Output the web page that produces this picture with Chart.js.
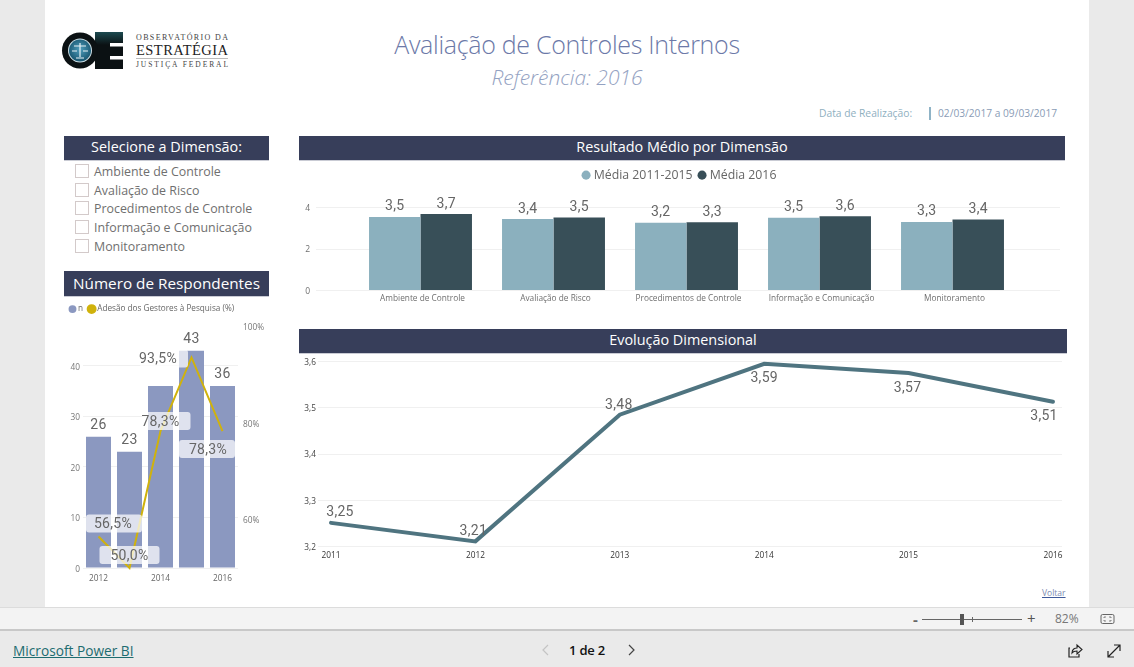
<!DOCTYPE html>
<html lang="pt"><head><meta charset="utf-8">
<script src="https://cdn.jsdelivr.net/npm/chart.js@4"></script>
<style>
html,body{margin:0;padding:0;width:1134px;height:667px;overflow:hidden;background:#eaeaea;font-family:"Open Sans","Noto Sans",sans-serif}
.a{position:absolute;white-space:nowrap}
#page{position:absolute;left:45px;top:0;width:1044px;height:607px;background:#fff}
.hd{position:absolute;background:#373e5a;color:#fff;text-align:center;border-bottom:1px solid #c9cbd4;box-sizing:border-box;white-space:nowrap}
canvas{position:absolute;display:block}
.sl{position:absolute;left:94px;font-size:12.4px;color:#6f6f6f;line-height:18px;white-space:nowrap}
.cb{position:absolute;left:75px;width:12px;height:12px;border:1px solid #d3caca;background:#fff}
</style></head><body>
<div id="page"></div>

<svg class="a" style="left:60px;top:26px" width="175" height="48" viewBox="0 0 175 48">
 <defs><radialGradient id="g" cx="50%" cy="45%" r="60%"><stop offset="0" stop-color="#4f9dbb"/><stop offset="1" stop-color="#14506a"/></radialGradient>
 <linearGradient id="e" x1="0" y1="0" x2="0" y2="1"><stop offset="0" stop-color="#1c4a50"/><stop offset=".35" stop-color="#0b1113"/></linearGradient></defs>
 <rect x="35" y="6" width="28" height="37" fill="url(#e)"/>
 <rect x="50" y="17" width="13" height="3.500" fill="#fff"/><rect x="50" y="30" width="13" height="3.500" fill="#fff"/>
 <circle cx="20" cy="24.500" r="18" fill="#0b1113"/><circle cx="20" cy="24.500" r="12" fill="#cfe0e6"/><circle cx="20" cy="24.500" r="11" fill="url(#g)"/>
 <path d="M20 17v14M14 20h12M16 32h8M12 25h5M23 25h5" stroke="#e8f2f5" stroke-width="1.200" fill="none"/>
 <text x="76" y="14" font-family="Liberation Serif" font-size="8" fill="#444" textLength="92" lengthAdjust="spacing">OBSERVATÓRIO DA</text>
 <text x="76" y="29" font-family="Liberation Serif" font-size="14.500" fill="#222" textLength="92" lengthAdjust="spacing">ESTRATÉGIA</text>
 <rect x="76" y="32" width="92" height="1" fill="#bbb"/>
 <text x="76" y="41" font-family="Liberation Serif" font-size="7.500" fill="#444" textLength="92" lengthAdjust="spacing">JUSTIÇA FEDERAL</text>
</svg>

<div class="a" style="left:267px;width:600px;top:26px;text-align:center;font-size:25px;line-height:36px;font-weight:300;color:#6c79a8;letter-spacing:-.3px">Avaliação de Controles Internos</div>
<div class="a" style="left:267px;width:600px;top:61px;text-align:center;font-size:21px;line-height:32px;font-weight:300;font-style:italic;color:#94a2c2">Referência: 2016</div>
<div class="a" style="left:819px;top:105px;font-size:10.300px;line-height:16px;color:#8fb0bf">Data de Realização:</div>
<div class="a" style="left:929px;top:107px;width:2px;height:13px;background:#8fb3c6"></div>
<div class="a" style="left:938px;top:105px;font-size:10.200px;line-height:16px;color:#8a9cb6">02/03/2017 a 09/03/2017</div>

<div class="hd" style="left:64px;top:136px;width:205px;height:25px;font-size:14.400px;line-height:22px">Selecione a Dimensão:</div>
<div class="cb" style="top:164px"></div><div class="sl" style="top:163px">Ambiente de Controle</div>
<div class="cb" style="top:183px"></div><div class="sl" style="top:182px">Avaliação de Risco</div>
<div class="cb" style="top:201px"></div><div class="sl" style="top:200px">Procedimentos de Controle</div>
<div class="cb" style="top:220px"></div><div class="sl" style="top:219px">Informação e Comunicação</div>
<div class="cb" style="top:239px"></div><div class="sl" style="top:238px">Monitoramento</div>

<div class="hd" style="left:64px;top:271px;width:205px;height:26px;font-size:15.300px;line-height:24px">Número de Respondentes</div>
<div class="hd" style="left:299px;top:136px;width:766px;height:25px;font-size:14.400px;line-height:22px">Resultado Médio por Dimensão</div>
<div class="hd" style="left:299px;top:329px;width:768px;height:25px;font-size:14.400px;line-height:22px">Evolução Dimensional</div>

<canvas id="c1" width="766" height="150" style="left:299px;top:160px"></canvas>
<canvas id="c2" width="768" height="212" style="left:299px;top:354px"></canvas>
<canvas id="c3" width="205" height="292" style="left:64px;top:298px"></canvas>

<div class="a" style="left:1042px;top:586px;font-size:8.500px;line-height:13px;color:#7d8bb0;text-decoration:underline;text-decoration-color:#3f5a9a">Voltar</div>

<div class="a" style="left:0;top:607px;width:1134px;height:24px;background:#f3f3f3;border-top:1px solid #dcdcdc;border-bottom:2px solid #c8c8c8;box-sizing:border-box"></div>
<div class="a" style="left:913px;top:610px;font-size:15px;line-height:18px;font-weight:700;color:#666">-</div>
<div class="a" style="left:922px;top:619px;width:100px;height:1px;background:#666"></div>
<div class="a" style="left:960px;top:614px;width:4px;height:11px;background:#555"></div>
<div class="a" style="left:972px;top:617px;width:1px;height:5px;background:#666"></div>
<div class="a" style="left:1027px;top:609px;font-size:15px;line-height:18px;color:#555">+</div>
<div class="a" style="left:1055px;top:611px;font-size:12px;line-height:16px;color:#777">82%</div>
<svg class="a" style="left:1100px;top:613px" width="16" height="12"><rect x="1" y="1.500" width="13" height="9" rx="1.500" fill="none" stroke="#666"/><path d="M4 5V4h2M9 4h2v1M4 7v1h2M9 8h2V7" stroke="#666" fill="none" stroke-width=".8"/></svg>

<div class="a" style="left:13px;top:641px;font-size:13.700px;line-height:20px;color:#1d6c70;text-decoration:underline;font-weight:500">Microsoft Power BI</div>
<svg class="a" style="left:541px;top:643px" width="10" height="14"><path d="M7 2L2 7l5 5" fill="none" stroke="#c4c4c4" stroke-width="1.200"/></svg>
<div class="a" style="left:569px;top:641px;font-size:13px;line-height:18px;color:#111;font-weight:600;letter-spacing:-.2px">1 de 2</div>
<svg class="a" style="left:626px;top:643px" width="10" height="14"><path d="M3 2l5 5-5 5" fill="none" stroke="#444" stroke-width="1.200"/></svg>
<svg class="a" style="left:1067px;top:643px" width="16" height="15"><path d="M3 5H2v9h10v-3" fill="none" stroke="#222" stroke-width="1.200"/><path d="M5 10c0-4 3-5 5-5V2l5 4.500-5 4.500V8c-2 0-4 .5-5 2z" fill="none" stroke="#222" stroke-width="1.100"/></svg>
<svg class="a" style="left:1107px;top:644px" width="14" height="14"><path d="M1 13L13 1M7 1h6v6M1 7v6h6" fill="none" stroke="#222" stroke-width="1.200"/></svg>

<script>
// ---- Data ----
const dimensions = ["Ambiente de Controle","Avaliação de Risco","Procedimentos de Controle","Informação e Comunicação","Monitoramento"];
const media20112015 = [3.52,3.42,3.24,3.48,3.28];
const media2016 = [3.66,3.50,3.27,3.56,3.40];
const dimTicks = [0,2,4];

const evoYears = ["2011","2012","2013","2014","2015","2016"];
const evoValues = [3.25,3.21,3.484,3.594,3.574,3.512];
const evoTicks = [3.2,3.3,3.4,3.5,3.6];

const respYears = ["2012","2013","2014","2015","2016"];
const respN = [26,23,36,43,36];
const respNHidden = [2];
const respAdesao = [56.5,50.0,78.3,93.5,78.3];
const respTicks = [0,10,20,30,40];
const adesaoTicks = [60,80,100];

// ---- Styles ----
const uiFont = '"Open Sans","Noto Sans",sans-serif';
const numFont = '"Liberation Sans Narrow","Roboto",sans-serif';
const comma = s => String(s).replace('.',',');
const grid = '#f0f0f0';
const noGrid = {display:false,drawTicks:false};

function fixedTicks(arr){ return s => { s.ticks = arr.map(value=>({value})); }; }
function fitW(w){ return s => { s.width=w; s.paddingTop=0; s.paddingBottom=0; }; }
function fitH(h){ return s => { s.height=h; s.paddingLeft=0; s.paddingRight=0; }; }
function legendHeight(h,extraRight,extraTop){ return {id:'lh',
  beforeInit(c){const f=c.legend.fit;c.legend.fit=function(){f.call(this);this.height=h;};},
  afterLayout(c){ if(extraRight) c.legend.right+=extraRight; if(extraTop) c.legend.top+=extraTop; }}; }
function wideGrid(x0,x1,color){ return {id:'wg',beforeDatasetsDraw(c){
  const g=c.ctx,y=c.scales.y; g.save(); g.strokeStyle=color; g.lineWidth=1;
  y.ticks.forEach(t=>{const p=Math.round(y.getPixelForValue(t.value))+.5; g.beginPath(); g.moveTo(x0,p); g.lineTo(x1,p); g.stroke();});
  g.restore();}}; }
function text(g,s,x,y,size,color){ g.font=size+'px '+numFont; g.fillStyle=color; g.textAlign='center'; g.textBaseline='middle'; g.letterSpacing='.3px'; g.fillText(s,x,y+1); g.letterSpacing='0px'; }

// Chart 1: average result by dimension
const barLabels = {id:'bl',afterDatasetsDraw(c){
  c.data.datasets.forEach((d,i)=>c.getDatasetMeta(i).data.forEach((el,j)=>{
    text(c.ctx,comma(d.data[j].toFixed(1)),el.x,el.y-11,14,'#666');
  }));}};
new Chart('c1',{type:'bar',
  data:{labels:dimensions,datasets:[
    {label:'Média 2011-2015',data:media20112015,backgroundColor:'#8bb0be',borderWidth:0},
    {label:'Média 2016',data:media2016,backgroundColor:'#384f58',borderWidth:0}]},
  options:{responsive:false,animation:false,layout:{padding:{right:46}},
    datasets:{bar:{barPercentage:1,categoryPercentage:.774}},
    plugins:{tooltip:{enabled:false},
      legend:{position:'top',labels:{usePointStyle:true,pointStyle:'circle',boxWidth:3,boxHeight:6.400,padding:8,color:'#666',font:{family:uiFont,size:12.300}}}},
    scales:{
      x:{grid:noGrid,border:{display:false},afterFit:fitH(20),
         ticks:{autoSkip:false,maxRotation:0,padding:4,labelOffset:2,color:'#6f6f6f',font:{family:uiFont,size:8.300}}},
      y:{min:0,max:4,afterBuildTicks:fixedTicks(dimTicks),afterFit:fitW(55),grid:noGrid,border:{display:false},
         ticks:{padding:44,labelOffset:1.500,color:'#6f6f6f',font:{family:uiFont,size:8.500}}}}},
  plugins:[legendHeight(47,43,1),wideGrid(17,761,grid),barLabels]});

// Chart 2: yearly evolution
const evoOffsets = [[9,-11],[-2,-11],[-1,-10],[0,14],[-1,14],[-9,14]];
const evoLabels = {id:'el',afterDatasetsDraw(c){
  c.getDatasetMeta(0).data.forEach((el,j)=>{
    text(c.ctx,comma(evoValues[j].toFixed(2)),el.x+evoOffsets[j][0],el.y+evoOffsets[j][1],14,'#666');
  });}};
new Chart('c2',{type:'line',
  data:{labels:evoYears,datasets:[{data:evoValues,borderColor:'#4f7480',borderWidth:4,pointRadius:0,tension:0,borderCapStyle:'round',clip:false}]},
  options:{responsive:false,animation:false,layout:{padding:{right:14,top:7}},
    plugins:{legend:{display:false},tooltip:{enabled:false}},
    scales:{
      x:{grid:noGrid,border:{display:false},afterFit:fitH(20),offset:false,
         ticks:{autoSkip:false,maxRotation:0,padding:5,color:'#333',font:{family:uiFont,size:8.300}}},
      y:{min:3.2,max:3.6,afterBuildTicks:fixedTicks(evoTicks),afterFit:fitW(32),grid:noGrid,border:{display:false},
         ticks:{padding:15,labelOffset:1.500,color:'#444',font:{family:uiFont,size:8.300},callback:v=>comma(v.toFixed(1))}}}},
  plugins:[wideGrid(19,763,grid),evoLabels]});

// Chart 3: respondents and adherence
const adesaoOffsets = [[14.5,-13],[0,-13],[0,-10],[-33.5,1],[-14.5,18]];
const adesaoBoxes = [[-27,29],[-30,30],[-18,30],[-18,30],[-29,27]];
const respLabels = {id:'rl',afterDatasetsDraw(c){
  const g=c.ctx;
  c.getDatasetMeta(1).data.forEach((el,j)=>{
    if(!respNHidden.includes(j)) text(g,String(respN[j]),el.x,el.y-12.5,14,'#666');
  });
  c.getDatasetMeta(0).data.forEach((el,j)=>{
    const cx=el.x+adesaoOffsets[j][0], cy=el.y+adesaoOffsets[j][1], b=adesaoBoxes[j];
    g.save(); g.fillStyle='rgba(255,255,255,.72)'; g.beginPath();
    g.roundRect(cx+b[0],cy-9,b[1]-b[0],18,3); g.fill(); g.restore();
    text(g,comma(respAdesao[j].toFixed(1))+'%',cx,cy,14,'#666');
  });}};
new Chart('c3',{
  data:{labels:respYears,datasets:[
    {type:'line',label:'Adesão dos Gestores à Pesquisa (%)',data:respAdesao,yAxisID:'y1',borderColor:'#d0b20c',backgroundColor:'#d0b20c',borderWidth:2,pointRadius:0,tension:0,order:0,clip:false},
    {type:'bar',label:'n',data:respN,yAxisID:'y',backgroundColor:'#8b98c0',barPercentage:1,categoryPercentage:.806,order:1}]},
  options:{responsive:false,animation:false,
    plugins:{tooltip:{enabled:false},
      legend:{position:'top',align:'start',reverse:true,labels:{usePointStyle:true,pointStyle:'circle',boxWidth:3,boxHeight:5.600,padding:7,color:'#666',font:{family:uiFont,size:8.200}}}},
    scales:{
      x:{grid:noGrid,border:{display:false},afterFit:fitH(22),
         ticks:{autoSkip:false,maxRotation:0,padding:6,color:'#666',font:{family:uiFont,size:8.300},callback(v,i){return i%2?'':this.getLabelForValue(v);}}},
      y:{position:'left',min:0,max:47.9,afterBuildTicks:fixedTicks(respTicks),afterFit:fitW(19),grid:{color:grid,drawTicks:false},border:{display:false},
         ticks:{padding:3,labelOffset:1.500,color:'#777',font:{family:uiFont,size:8.300}}},
      y1:{position:'right',min:50,max:100,afterBuildTicks:fixedTicks(adesaoTicks),afterFit:fitW(31),grid:noGrid,border:{display:false},
         ticks:{padding:5,labelOffset:1.500,color:'#777',font:{family:uiFont,size:8.300},callback:v=>v+'%'}}}},
  plugins:[legendHeight(28),respLabels]});
</script>
</body></html>
